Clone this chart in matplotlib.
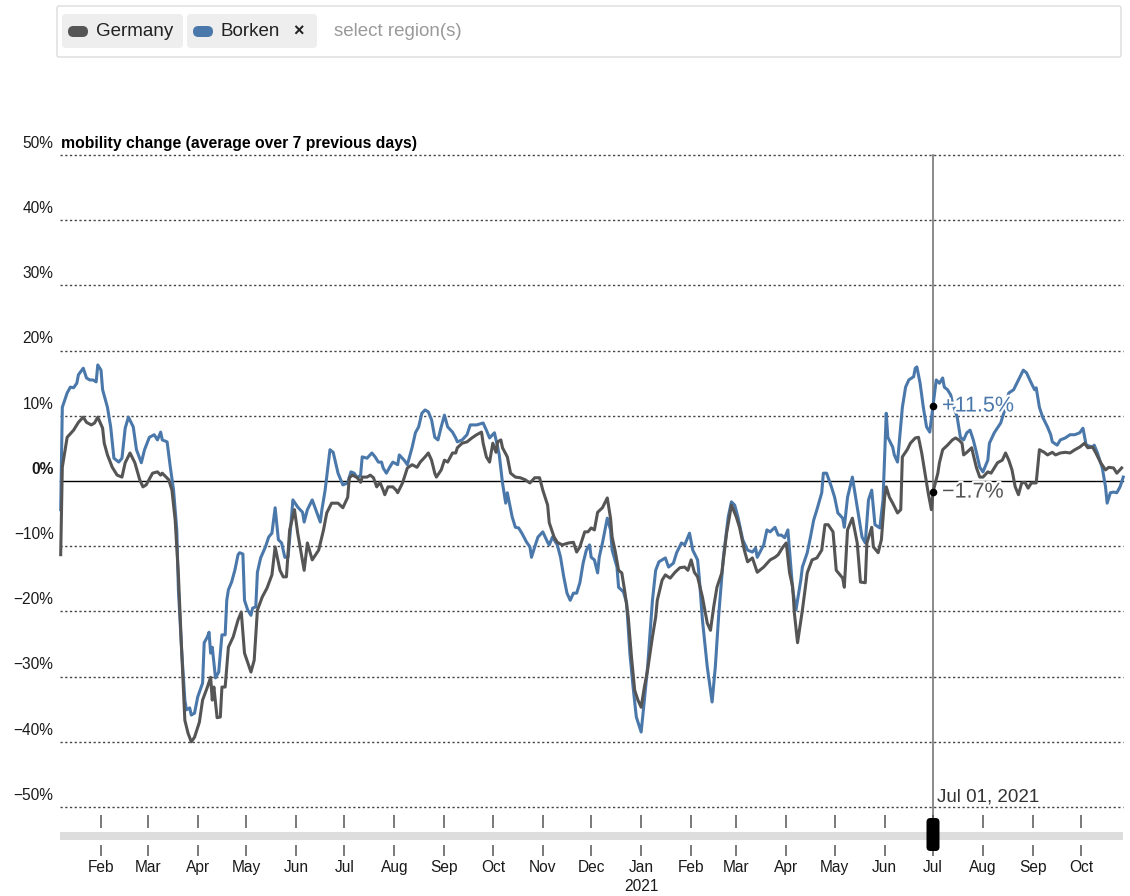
import numpy as np
import pandas as pd
import matplotlib
matplotlib.use('Agg')
import matplotlib.pyplot as plt
import matplotlib.dates as mdates
import matplotlib.patheffects as pe
from matplotlib.patches import FancyBboxPatch

plt.rcParams['font.family'] = ['Liberation Sans', 'DejaVu Sans']

# --- data: days since 2020-01-01 and mobility change in % ---
germany_days = [6, 7, 10, 14, 17, 20, 22, 25, 27, 29, 32, 33, 35, 38, 41, 44, 46, 49, 52, 55,
                57, 59, 63, 66, 68, 69, 73, 75, 77, 79, 81, 83, 85, 87, 89, 92, 94, 97, 99, 100,
                101, 103, 105, 106, 108, 110, 113, 116, 118, 120, 124, 126, 128, 131, 134, 137, 139, 142, 144, 146,
                148, 151, 153, 157, 159, 162, 166, 169, 171, 174, 178, 181, 184, 185, 187, 190, 192, 193, 196, 198,
                200, 202, 204, 206, 207, 209, 212, 214, 215, 218, 221, 224, 227, 229, 232, 234, 236, 238, 239, 242,
                244, 246, 249, 251, 252, 255, 258, 261, 264, 267, 268, 270, 272, 274, 276, 277, 279, 280, 283, 285,
                288, 291, 294, 297, 300, 303, 305, 308, 309, 312, 314, 317, 321, 324, 326, 328, 331, 333, 335, 337,
                339, 342, 345, 347, 348, 350, 352, 354, 356, 358, 360, 362, 364, 366, 368, 370, 373, 375, 376, 379,
                381, 384, 387, 390, 393, 395, 397, 399, 401, 404, 407, 409, 411, 413, 416, 419, 422, 425, 427, 430,
                432, 435, 438, 442, 446, 449, 451, 454, 456, 458, 460, 461, 463, 466, 469, 472, 475, 478, 480, 482,
                485, 487, 491, 492, 494, 497, 500, 502, 505, 506, 509, 510, 513, 515, 517, 518, 520, 522, 525, 527,
                528, 531, 533, 536, 538, 540, 542, 544, 546, 547, 550, 551, 553, 556, 559, 561, 563, 565, 566, 568,
                571, 572, 574, 576, 578, 581, 583, 585, 587, 590, 592, 594, 596, 598, 600, 602, 604, 606, 608, 611,
                613, 616, 618, 621, 623, 626, 629, 632, 635, 638, 641, 643, 646, 648, 651, 654, 656, 659, 661, 664]
germany_vals = [-11.3, 2.1, 6.7, 7.8, 9.0, 9.8, 9.0, 8.6, 8.9, 9.8, 8.1, 5.8, 4.0, 2.1, 0.9, 0.6, 2.8, 4.3, 2.8, 0.2,
                -0.9, -0.6, 1.2, 1.4, 0.9, 1.2, 0.2, -1.4, -6.0, -14.4, -25.9, -36.7, -38.7, -40.0, -39.3, -37.0, -33.6, -31.6, -30.1, -33.6,
                -31.6, -36.3, -36.2, -31.6, -31.6, -25.5, -23.9, -21.3, -20.1, -26.4, -29.3, -27.5, -19.8, -17.8, -16.4, -14.4, -10.1, -13.7, -14.7, -14.7,
                -7.5, -4.4, -8.0, -13.7, -9.5, -12.1, -10.6, -7.5, -4.9, -3.4, -3.4, -4.1, -2.5, 0.5, 0.9, 0.5, -0.2, 0.6, 0.6, 0.9,
                0.5, -0.9, -0.2, -1.4, -2.1, -0.9, -0.9, -1.4, -1.8, -0.3, 2.0, 2.5, 2.1, 2.9, 3.7, 4.3, 3.2, 1.2, 0.6, 1.7,
                3.2, 2.9, 4.3, 4.3, 5.1, 5.8, 6.0, 6.6, 7.1, 7.5, 5.8, 3.7, 2.9, 5.8, 4.4, 6.0, 6.3, 5.1, 3.7, 1.2,
                0.6, 0.5, 0.2, -0.3, 0.5, 0.5, -1.4, -3.7, -6.4, -8.6, -9.4, -9.8, -9.5, -9.4, -10.9, -10.1, -7.8, -7.8, -7.2, -7.5,
                -4.8, -4.1, -2.6, -5.7, -8.6, -10.9, -13.7, -14.1, -17.2, -20.9, -27.0, -32.1, -33.6, -34.7, -31.6, -29.0, -23.9, -20.9, -18.3, -15.2,
                -14.4, -14.9, -14.0, -13.3, -13.2, -13.7, -12.1, -14.0, -14.7, -17.8, -21.8, -22.9, -19.3, -16.3, -14.1, -8.0, -3.7, -5.5, -7.1, -10.6,
                -12.4, -11.8, -14.0, -13.2, -12.1, -11.7, -11.3, -10.1, -9.5, -14.0, -16.3, -20.2, -24.8, -19.8, -14.1, -12.1, -11.8, -10.6, -6.7, -6.7,
                -7.8, -13.7, -14.9, -16.3, -7.5, -5.7, -9.5, -15.5, -15.6, -9.5, -7.1, -10.1, -11.0, -9.0, -2.5, -0.9, -2.5, -3.4, -4.9, -4.4,
                3.7, 4.8, 5.8, 6.6, 6.7, 4.3, 1.2, -1.8, -4.4, -1.7, 1.2, 2.8, 4.8, 5.5, 6.3, 6.6, 6.3, 5.8, 4.0, 4.4,
                5.1, 4.0, 2.0, 0.6, 0.6, 1.4, 1.2, 2.0, 2.8, 3.2, 4.3, 3.2, 1.7, -0.9, -2.1, -0.3, -0.2, -1.1, -0.3, -0.3,
                4.8, 4.4, 4.0, 4.4, 4.0, 4.3, 4.4, 4.3, 4.8, 5.2, 5.8, 5.1, 5.2, 4.3, 2.8, 1.7, 2.1, 2.0, 1.2, 2.0]

borken_days = [6, 7, 10, 12, 14, 16, 17, 20, 22, 24, 26, 28, 29, 31, 32, 35, 37, 39, 42, 44,
               46, 48, 51, 53, 56, 58, 61, 64, 66, 68, 69, 72, 74, 76, 78, 79, 81, 83, 84, 86,
               87, 89, 91, 94, 95, 97, 98, 99, 100, 102, 104, 106, 108, 109, 110, 112, 114, 116, 117, 119,
               120, 122, 124, 125, 127, 128, 130, 133, 135, 137, 139, 141, 143, 145, 147, 149, 150, 153, 156, 157,
               159, 162, 167, 168, 170, 173, 175, 178, 181, 184, 186, 188, 190, 192, 193, 196, 199, 201, 203, 205,
               206, 208, 210, 212, 215, 216, 219, 221, 224, 226, 228, 230, 232, 234, 236, 238, 240, 242, 244, 246,
               249, 251, 252, 255, 258, 260, 264, 268, 270, 272, 275, 277, 278, 280, 282, 283, 286, 288, 290, 292,
               295, 297, 298, 300, 302, 305, 308, 309, 311, 314, 316, 318, 320, 322, 324, 326, 328, 330, 332, 334,
               335, 337, 339, 340, 342, 345, 347, 348, 351, 352, 355, 357, 359, 361, 363, 366, 368, 370, 373, 375,
               377, 381, 383, 386, 388, 391, 393, 396, 398, 401, 402, 404, 407, 410, 412, 414, 417, 420, 422, 424,
               426, 429, 432, 435, 437, 438, 442, 444, 446, 449, 451, 453, 455, 457, 459, 460, 462, 463, 465, 466,
               469, 471, 473, 475, 478, 479, 481, 484, 486, 488, 491, 492, 494, 497, 500, 503, 505, 507, 509, 511,
               514, 516, 518, 519, 522, 523, 525, 528, 530, 532, 535, 536, 537, 539, 541, 543, 545, 547, 549, 551,
               553, 554, 556, 558, 559, 562, 564, 566, 568, 570, 572, 574, 576, 578, 581, 582, 585, 589, 592, 594,
               597, 599, 601, 603, 605, 608, 610, 611, 613, 615, 618, 620, 621, 624, 626, 629, 632, 635, 638, 640,
               642, 646, 647, 649, 652, 654, 655, 657, 659, 661, 663, 665]
borken_vals = [-4.4, 11.3, 13.5, 14.4, 14.3, 15.0, 16.3, 17.3, 15.8, 15.5, 15.5, 15.2, 17.8, 17.0, 14.0, 11.3, 8.3, 3.5, 2.9, 3.5,
               8.1, 9.8, 8.3, 4.8, 2.8, 4.8, 6.7, 7.1, 6.3, 7.5, 6.3, 6.0, 2.1, -1.4, -7.5, -16.7, -25.9, -33.6, -35.1, -34.8,
               -35.9, -35.6, -33.1, -31.0, -24.8, -23.9, -23.2, -26.4, -25.5, -30.2, -29.3, -23.6, -23.6, -18.3, -16.7, -15.5, -13.7, -11.3, -11.0, -11.2,
               -18.3, -19.8, -20.6, -19.5, -19.3, -14.0, -11.8, -10.1, -8.6, -8.0, -4.1, -9.0, -9.5, -11.7, -11.7, -6.0, -2.9, -4.0, -4.8, -6.3,
               -4.4, -2.9, -6.3, -4.4, -1.4, 4.8, 4.4, 1.2, -0.6, -0.3, 1.4, 1.2, 0.5, 0.9, 3.7, 3.5, 4.3, 3.7, 2.9, 2.9,
               2.0, 1.2, 2.1, 2.9, 2.5, 4.0, 3.2, 2.5, 5.2, 7.4, 8.3, 10.4, 10.9, 10.6, 9.4, 6.7, 6.3, 8.3, 10.1, 8.3,
               7.5, 6.6, 6.0, 6.3, 7.1, 8.6, 8.6, 8.9, 7.8, 6.6, 7.4, 5.2, 4.0, -0.3, -3.4, -1.8, -5.5, -7.1, -7.2, -8.0,
               -9.4, -10.1, -11.7, -10.1, -8.6, -7.8, -9.4, -9.8, -8.6, -9.8, -11.7, -14.7, -17.2, -18.3, -17.2, -17.2, -15.6, -12.6, -10.6, -9.8,
               -11.7, -12.1, -14.1, -11.7, -9.5, -5.7, -7.5, -10.6, -13.2, -16.3, -17.0, -18.7, -26.4, -31.6, -36.2, -38.5, -33.6, -28.5, -18.3, -13.7,
               -12.4, -11.8, -13.2, -12.6, -11.0, -9.5, -9.8, -8.0, -10.6, -12.1, -14.7, -21.3, -28.5, -33.9, -28.5, -20.9, -11.7, -5.5, -3.2, -3.7,
               -5.5, -9.0, -10.6, -10.9, -10.3, -11.7, -9.8, -7.5, -7.8, -7.1, -8.3, -8.3, -8.7, -7.5, -13.7, -16.7, -19.8, -18.3, -15.2, -13.2,
               -11.0, -8.6, -6.0, -4.4, -1.8, 1.2, 1.2, -0.9, -2.5, -4.9, -5.7, -7.1, -2.5, 0.6, -4.0, -8.6, -9.5, -2.9, -1.4, -6.7,
               -7.2, -2.9, 10.4, 6.7, 5.2, 4.0, 2.9, 11.3, 14.4, 15.5, 16.0, 17.3, 17.5, 15.0, 11.3, 8.3, 7.5, 11.5, 15.5, 15.0,
               15.8, 14.4, 14.0, 13.2, 12.1, 9.8, 6.7, 6.3, 7.4, 7.8, 6.3, 4.3, 2.1, 1.4, 3.2, 5.8, 7.4, 8.9, 11.3, 13.5,
               14.0, 15.0, 16.0, 17.0, 16.6, 15.0, 14.0, 14.3, 11.3, 9.8, 8.3, 7.1, 6.0, 5.5, 6.3, 6.6, 7.1, 7.1, 7.4, 8.1,
               5.5, 5.2, 5.5, 4.3, 2.0, -0.9, -3.4, -1.8, -1.7, -1.8, -0.9, 0.6]

y_ticks = [50, 40, 30, 20, 10, 0, -10, -20, -30, -40, -50]
cursor_day = 547  # Jul 01, 2021
regions = ['Germany', 'Borken']
colors = ['#555555', '#4b78aa']

start = pd.Timestamp('2020-01-01')
to_date = lambda d: start + pd.to_timedelta(np.asarray(d, dtype=float), unit='D')

fig = plt.figure(figsize=(11.3, 8.96), dpi=100)
ax = fig.add_axes([60 / 1130, 1 - 807 / 896, 1063 / 1130, 652 / 896])
ax.set_xlim(to_date(5.57), to_date(664.84))
ax.set_ylim(-50, 50)
ax.axis('off')

# grid
for t in y_ticks:
    if t == 0:
        ax.axhline(t, color='black', lw=1.0, zorder=1, clip_on=False)
    else:
        ax.axhline(t, color='#444444', lw=1.0, dashes=(1.6, 1.8), zorder=1, clip_on=False)
    lab = f"{t}%".replace('-', '\u2212')
    ax.text(-0.006, t + 1.8, lab, transform=ax.get_yaxis_transform(), ha='right', va='center',
            fontsize=11.2, color='#1a1a1a', fontweight='bold' if t == 0 else 'normal')

ax.text(0.001, 50 + 1.8, 'mobility change (average over 7 previous days)', transform=ax.get_yaxis_transform(),
        ha='left', va='center', fontsize=11.3, fontweight='bold', color='black')

# series
ax.plot(to_date(borken_days), borken_vals, color=colors[1], lw=2.2, zorder=3, clip_on=False)
ax.plot(to_date(germany_days), germany_vals, color=colors[0], lw=2.2, zorder=3, clip_on=False)

# cursor
cdate = to_date([cursor_day])[0]
ax.axvline(cdate, ymin=-0.017, ymax=1, color='#777777', lw=1.2, zorder=2, clip_on=False)
for days, vals, col in [(germany_days, germany_vals, colors[0]), (borken_days, borken_vals, colors[1])]:
    v = float(np.interp(cursor_day, days, vals))
    ax.plot([cdate], [v], 'o', color='black', ms=4.5, zorder=5)
    ax.annotate(f"{v:+.1f}%".replace('-', '\u2212'), xy=(cdate, v), xytext=(9, 0), textcoords='offset pixels',
                ha='left', va='center', fontsize=15.5, color=col, zorder=6,
                path_effects=[pe.withStroke(linewidth=3, foreground='white')])
ax.annotate(cdate.strftime('%b %d, %Y'), xy=(cdate, -50), xytext=(4, 2), textcoords='offset pixels',
            ha='left', va='bottom', fontsize=13.5, color='#333333')

# slider / time axis
ax2 = fig.add_axes([60 / 1130, 6 / 896, 1063 / 1130, 80 / 896], sharex=ax)
ax2.set_ylim(0, 1)
ax2.axis('off')
ax2.axhline(0.675, color='#dddddd', lw=5.8, solid_capstyle='butt')
months = pd.date_range('2020-02-01', '2021-10-01', freq='MS')
ax2.vlines(months, 0.775, 0.94, color='#555555', lw=1.1)
ax2.vlines(months, 0.425, 0.565, color='#555555', lw=1.1)
for m in months:
    ax2.text(m, 0.28, m.strftime('%b'), ha='center', va='center', fontsize=11.2, color='#1a1a1a')
    if m.month == 1:
        ax2.text(m, 0.04, str(m.year), ha='center', va='center', fontsize=11.2, color='#1a1a1a')

# decorations in pixel space
deco = fig.add_axes([0, 0, 1, 1], zorder=5)
deco.set_xlim(0, 1130)
deco.set_ylim(896, 0)
deco.axis('off')
deco.patch.set_alpha(0)

hx = ax.transData.transform((mdates.date2num(cdate), 0))[0]
deco.add_patch(FancyBboxPatch((hx - 6.5, 818), 13, 33, boxstyle='round,pad=0,rounding_size=4',
                              fc='black', ec='none'))

deco.add_patch(FancyBboxPatch((57, 6), 1064, 51, boxstyle='round,pad=0,rounding_size=2',
                              fc='white', ec='#dcdcdc', lw=1))
chips = [(62, 121), (187, 130)]
for (cx, cw), name, col in zip(chips, regions, colors):
    deco.add_patch(FancyBboxPatch((cx, 14), cw, 34, boxstyle='round,pad=0,rounding_size=4',
                                  fc='#eeeeee', ec='none'))
    deco.add_patch(FancyBboxPatch((cx + 6, 26), 20, 11, boxstyle='round,pad=0,rounding_size=5.5',
                                  fc=col, ec='none'))
    deco.text(cx + 34, 32, name, ha='left', va='center', fontsize=13.5, color='#222222')
deco.text(298, 32, '\u00d7', ha='center', va='center', fontsize=13, fontweight='bold', color='#222222')
deco.text(334, 31, 'select region(s)', ha='left', va='center', fontsize=13.5, color='#9a9a9a')

fig.savefig('out.png', dpi=100)
